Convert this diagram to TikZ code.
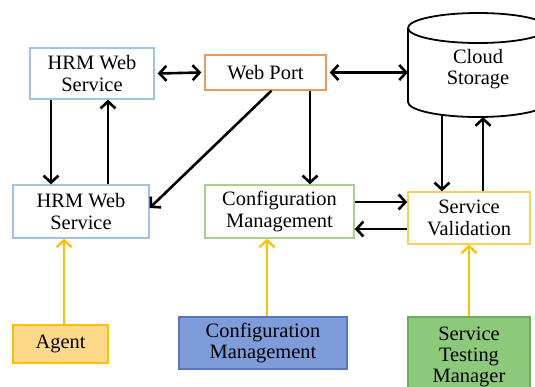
\documentclass[tikz,border=0pt]{standalone}
\usepackage{fontspec}
\setmainfont{Liberation Serif}
\usetikzlibrary{arrows.meta}

\definecolor{hrmblue}{HTML}{9DC3E6}
\definecolor{portorange}{HTML}{ED9A55}
\definecolor{cfggreen}{HTML}{A9D18E}
\definecolor{valgold}{HTML}{FFD24D}
\definecolor{flowyellow}{HTML}{FFC000}
\definecolor{agentfill}{HTML}{FFD98A}
\definecolor{bluefill}{HTML}{7E9BDA}
\definecolor{blueline}{HTML}{5577C0}
\definecolor{greenfill}{HTML}{8CC97A}
\definecolor{greenline}{HTML}{6FAA5C}

\tikzset{
  box/.style={draw, line width=1.3bp, align=center, inner sep=0pt,
    font=\rmfamily\fontsize{20.5}{21.5}\selectfont},
  arr/.style={line width=2.6bp, {Straight Barb[length=7bp,width=15bp]}-},
  arrback/.style={line width=2.6bp, -{Straight Barb[length=7bp,width=15bp]}},
  arrboth/.style={line width=2.6bp, {Straight Barb[length=7bp,width=15bp]}-{Straight Barb[length=7bp,width=15bp]}},
  feed/.style={line width=2.3bp, flowyellow, -{Straight Barb[length=7bp,width=15bp]}}
}

\begin{document}
\begin{tikzpicture}[x=1bp,y=-1bp]
% Set the picture size
\useasboundingbox (0,0) rectangle (535,386);
\clip (0,0) rectangle (535,386);

% Draw the boxes
\node[box, draw=hrmblue, minimum width=124bp, minimum height=51bp] (hrmtop) at (92,73.5) {HRM Web\\Service};
\node[box, draw=portorange, minimum width=121bp, minimum height=35bp] (port) at (265.5,72.5) {Web Port};
\node[box, draw=hrmblue, minimum width=136bp, minimum height=53bp] (hrmbot) at (81,211.5) {HRM Web\\Service};
\node[box, draw=cfggreen, minimum width=149bp, minimum height=53bp] (config) at (279.5,211.5) {Configuration\\Management};
\node[box, draw=valgold, minimum width=122bp, minimum height=52bp] (valid) at (469,218) {Service\\Validation};
\node[box, draw=flowyellow, fill=agentfill, minimum width=95bp, minimum height=38bp] (agent) at (60.5,344) {Agent};
\node[box, draw=blueline, fill=bluefill, minimum width=168bp, minimum height=52bp] (cfgmgr) at (263,343) {Configuration\\Management};
\node[box, draw=greenline, fill=greenfill, minimum width=122bp, minimum height=80bp] (tester) at (469,357) {Service\\Testing\\Manager};

% Draw the cloud storage
\draw[line width=1.8bp] (478,28) ellipse [x radius=70, y radius=15];
\draw[line width=1.8bp] (408,28) -- (408,102) arc[start angle=180, end angle=0, x radius=70, y radius=15] -- (548,28);
\node[box, draw=none] (cloud) at (478,69) {Cloud\\Storage};
\coordinate (cloudside) at (408,73);
\coordinate (cloudout) at (442,115);
\coordinate (cloudin) at (483,117);

% Draw the arrows
\draw[arrboth] ([xshift=3bp]hrmtop.east) -- ([xshift=-3bp]port.west);
\draw[arrboth] ([xshift=3bp]port.east) -- (port.east -| cloudside);
\draw[arrback] ([xshift=-41bp]hrmtop.south) -- ([xshift=-41bp]hrmtop.south |- hrmbot.north);
\draw[arr] ([xshift=16bp]hrmtop.south) -- ([xshift=16bp]hrmtop.south |- hrmbot.north);
\draw[arrback] ([xshift=6bp]port.south) -- ([yshift=3.5bp]hrmbot.east);
\draw[arrback] ([xshift=44.5bp]port.south) -- ([xshift=44.5bp]port.south |- config.north);
\draw[arrback] ([yshift=9.5bp]config.east) -- ([yshift=9.5bp]config.east -| valid.west);
\draw[arrback] ([yshift=-11bp]valid.west) -- ([yshift=-11bp]valid.west -| config.east);
\draw[arrback] (cloudout) -- (cloudout |- valid.north);
\draw[arr] (cloudin) -- (cloudin |- valid.north);

% Draw the yellow arrows
\draw[feed] ([xshift=3.5bp]agent.north) -- ([xshift=3.5bp]agent.north |- hrmbot.south);
\draw[feed] ([xshift=4bp]cfgmgr.north) -- ([xshift=4bp]cfgmgr.north |- config.south);
\draw[feed] (tester.north) -- (valid.south);
\end{tikzpicture}
\end{document}
